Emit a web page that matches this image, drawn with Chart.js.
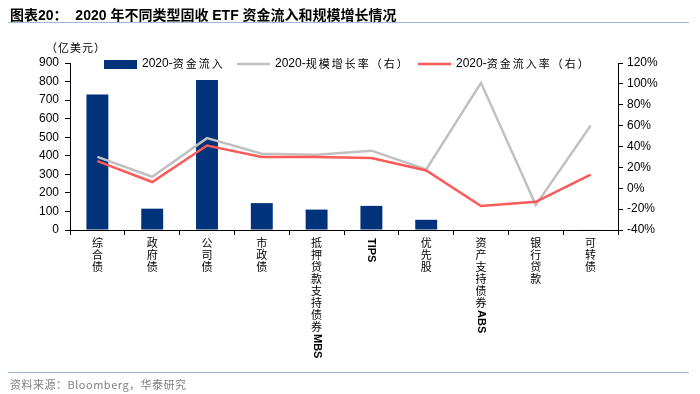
<!DOCTYPE html>
<html>
<head>
<meta charset="utf-8">
<script src="https://cdn.jsdelivr.net/npm/chart.js@4"></script>
<style>
  body { margin: 0; background: #fff; }
  #wrap { position: relative; width: 700px; height: 394px; overflow: hidden; font-family: "Liberation Sans", Arial, "Noto Sans CJK SC", sans-serif; }
  #title { position: absolute; left: 10px; top: 4px; font-size: 14px; font-weight: bold; color: #000; font-family: "Liberation Sans", Arial, "Noto Sans CJK SC", sans-serif; white-space: nowrap; }
  #topLine { position: absolute; left: 8px; top: 22px; width: 681px; height: 1px; background: #9db7d8; }
  #unit { position: absolute; left: 46px; top: 39px; font-size: 11px; color: #000; font-family: "Noto Sans CJK SC", sans-serif; letter-spacing: 1px; }
  #bottomLine { position: absolute; left: 8px; top: 372px; width: 681px; height: 1px; background: #9db7d8; }
  #source { position: absolute; left: 10px; top: 376px; font-size: 11px; color: #808080; font-family: "Noto Sans CJK SC", sans-serif; white-space: nowrap; letter-spacing: 0.5px; }
  canvas { position: absolute; left: 0; top: 0; }
</style>
</head>
<body>
<div id="wrap">
  <canvas id="chart" width="700" height="394"></canvas>
  <div id="title">图表20：&nbsp;&nbsp;2020 年不同类型固收 ETF 资金流入和规模增长情况</div>
  <div id="topLine"></div>
  <div id="unit">（亿美元）</div>
  <div id="bottomLine"></div>
  <div id="source">资料来源：Bloomberg，华泰研究</div>
</div>
<script>
/* DATA */
const categories = ["综合债", "政府债", "公司债", "市政债", "抵押贷款支持债券MBS", "TIPS", "优先股", "资产支持债券ABS", "银行贷款", "可转债"];
const inflow = [730, 115, 808, 145, 110, 130, 55, 0, 0, 3];          // 亿美元
const growthRate = [30, 11, 48, 33, 32, 36, 18, 101, -16, 60];      // %
const inflowRate = [26, 6, 41, 30, 30, 29, 17, -17, -13, 13];       // %
const leftTicks = [0, 100, 200, 300, 400, 500, 600, 700, 800, 900];
const rightTicks = [-40, -20, 0, 20, 40, 60, 80, 100, 120];

const NAVY = "#00337a";
const GREY = "#c0c0c0";
const RED = "#ff5a5a";

/* X LABELS: CJK stacked upright, latin runs rotated */
const xLabelPlugin = {
    id: "xLabels",
    afterDraw(chart) {
        const ctx = chart.ctx;
        const x = chart.scales.x;
        ctx.save();
        ctx.fillStyle = "#000";
        categories.forEach((label, i) => {
            const cx = x.getPixelForValue(i);
            let y = 237;
            const parts = label.match(/[A-Za-z]+|[^A-Za-z]/g);
            parts.forEach(p => {
                if (/^[A-Za-z]+$/.test(p)) {
                    ctx.font = "bold 11px 'Liberation Sans', Arial, sans-serif";
                    const w = ctx.measureText(p).width;
                    ctx.save();
                    ctx.translate(cx, y + 1);
                    ctx.rotate(Math.PI / 2);
                    ctx.textAlign = "left";
                    ctx.textBaseline = "middle";
                    ctx.fillText(p, 0, 0);
                    ctx.restore();
                    y += w + 2;
                } else {
                    ctx.font = "11px 'Noto Sans CJK SC', sans-serif";
                    ctx.textAlign = "center";
                    ctx.textBaseline = "top";
                    ctx.fillText(p, cx, y);
                    y += 12;
                }
            });
        });
        ctx.restore();
    }
};

/* LEGEND (inside plot, top row) */
const legendPlugin = {
    id: "topLegend",
    afterDraw(chart) {
        const ctx = chart.ctx;
        const y = chart.chartArea.top + 1;
        const items = [
            { x: 104, type: "bar", ds: 0 },
            { x: 237, type: "line", ds: 1 },
            { x: 418, type: "line", ds: 2 }
        ];
        ctx.save();
        items.forEach(it => {
            const ds = chart.data.datasets[it.ds];
            if (it.type === "bar") {
                ctx.fillStyle = ds.backgroundColor;
                ctx.fillRect(it.x, y - 4, 33, 9);
            } else {
                ctx.strokeStyle = ds.borderColor;
                ctx.lineWidth = 2.5;
                ctx.beginPath();
                ctx.moveTo(it.x, y);
                ctx.lineTo(it.x + 33, y);
                ctx.stroke();
            }
            ctx.fillStyle = "#000";
            ctx.textBaseline = "middle";
            ctx.textAlign = "left";
            const m = ds.label.match(/^(\S+-)(.*)$/);
            let tx = it.x + 38;
            ctx.font = "12px 'Liberation Sans', Arial, sans-serif";
            ctx.fillText(m[1], tx, y);
            tx += ctx.measureText(m[1]).width;
            ctx.font = "11px 'Noto Sans CJK SC', sans-serif";
            for (const ch of m[2]) {
                ctx.fillText(ch, tx, y);
                tx += ctx.measureText(ch).width + 2;
            }
        });
        ctx.restore();
    }
};

new Chart(document.getElementById("chart"), {
    data: {
        labels: categories,
        datasets: [
            {
                type: "bar",
                label: "2020-资金流入",
                data: inflow,
                backgroundColor: NAVY,
                yAxisID: "y",
                barPercentage: 0.4,
                categoryPercentage: 1,
                order: 3
            },
            {
                type: "line",
                label: "2020-规模增长率（右）",
                data: growthRate,
                borderColor: GREY,
                borderWidth: 2.5,
                pointRadius: 0,
                tension: 0,
                yAxisID: "y1",
                order: 2
            },
            {
                type: "line",
                label: "2020-资金流入率（右）",
                data: inflowRate,
                borderColor: RED,
                borderWidth: 2.5,
                pointRadius: 0,
                tension: 0,
                yAxisID: "y1",
                order: 1
            }
        ]
    },
    options: {
        responsive: false,
        animation: false,
        layout: { padding: { top: 63, left: 0, right: 0, bottom: 0 } },
        plugins: { legend: { display: false }, tooltip: { enabled: false } },
        scales: {
            x: {
                offset: true,
                grid: { display: true, drawOnChartArea: false, drawTicks: true, tickLength: 5, color: "#000", offset: true },
                border: { display: true, color: "#000", width: 1 },
                ticks: { color: "rgba(0,0,0,0)", maxRotation: 0, autoSkip: false },
                afterFit(s) { s.height = 164; }
            },
            y: {
                position: "left",
                min: 0,
                max: 900,
                afterBuildTicks(s) { s.ticks = leftTicks.map(v => ({ value: v })); },
                grid: { display: true, drawOnChartArea: false, drawTicks: true, tickLength: 5, color: "#000" },
                border: { display: true, color: "#000", width: 1 },
                ticks: { color: "#000", padding: 6, font: { size: 12, family: "'Liberation Sans', Arial, sans-serif" } },
                afterFit(s) { s.width = 70; }
            },
            y1: {
                position: "right",
                min: -40,
                max: 120,
                afterBuildTicks(s) { s.ticks = rightTicks.map(v => ({ value: v })); },
                grid: { display: true, drawOnChartArea: false, drawTicks: true, tickLength: 5, color: "#000" },
                border: { display: true, color: "#000", width: 1 },
                ticks: { color: "#000", padding: 4, callback: v => v + "%", font: { size: 12, family: "'Liberation Sans', Arial, sans-serif" } },
                afterFit(s) { s.width = 82; }
            }
        }
    },
    plugins: [xLabelPlugin, legendPlugin]
});
</script>
</body>
</html>
